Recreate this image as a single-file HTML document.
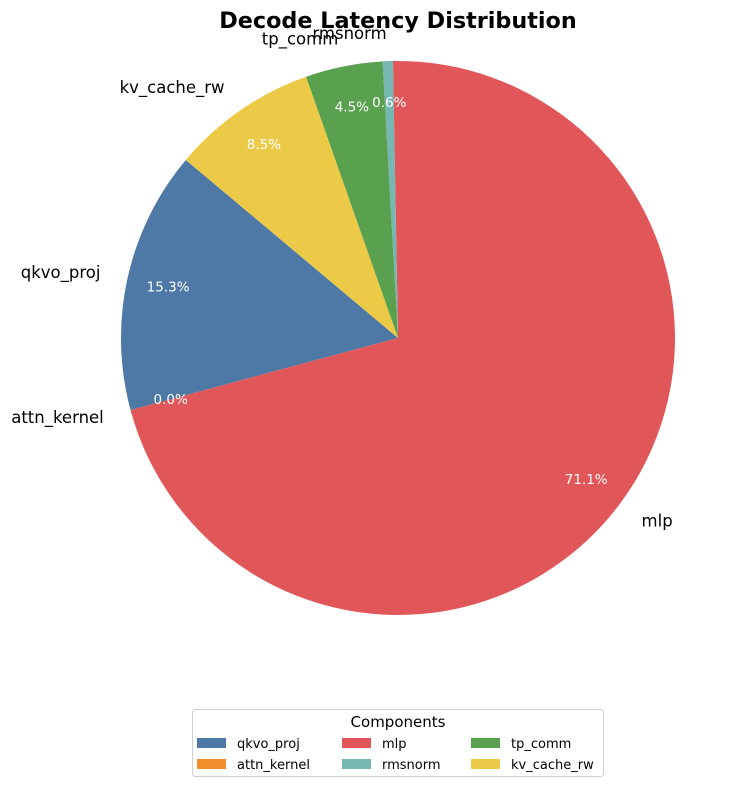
<!DOCTYPE html>
<html><head><meta charset="utf-8"><style>
body{margin:0;background:#fff;}
svg{display:block;font-family:"DejaVu Sans","Liberation Sans",sans-serif;}
</style></head><body>
<svg id="chart" width="751" height="787">
<text x="398" y="28" text-anchor="middle" font-size="22.3" font-weight="bold">Decode Latency Distribution</text>
<g id="pie"></g>
<g id="labels"></g>
<g>
<rect x="192.5" y="709.5" width="411" height="67" rx="3" fill="#fff" stroke="#d0d0d0"/>
<text x="398" y="727" text-anchor="middle" font-size="15">Components</text>
<g id="legend-entries"></g>
</g>
</svg>
<script>
const categories = ["qkvo_proj","attn_kernel","mlp","rmsnorm","tp_comm","kv_cache_rw"];
const values = [15.3, 0.0, 71.1, 0.6, 4.5, 8.5];
const colors = ["#4e79a7","#f28e2b","#e15759","#76b7b2","#59a14f","#edc948"];
const startAngle = 140;
const cx = 398, cy = 338, R = 277;
const NS = "http://www.w3.org/2000/svg";
const pie = document.getElementById("pie");
const labels = document.getElementById("labels");
const total = values.reduce((a,b)=>a+b,0);
function pt(deg, r){ const a = deg*Math.PI/180; return [cx + r*Math.cos(a), cy - r*Math.sin(a)]; }
let ang = startAngle;
categories.forEach((c,i)=>{
  const sweep = values[i]/total*360;
  const a0 = ang, a1 = ang + sweep;
  if (sweep > 0) {
    const p0 = pt(a0,R), p1 = pt(a1,R);
    const large = sweep > 180 ? 1 : 0;
    const path = document.createElementNS(NS,"path");
    path.setAttribute("d",`M${cx},${cy} L${p0[0]},${p0[1]} A${R},${R} 0 ${large} 0 ${p1[0]},${p1[1]} Z`);
    path.setAttribute("fill",colors[i]);
    
    
    pie.appendChild(path);
  }
  const mid = (a0+a1)/2;
  const lp = pt(mid, R*1.1);
  const lbl = document.createElementNS(NS,"text");
  lbl.setAttribute("x",lp[0]); lbl.setAttribute("y",lp[1]+5.5);
  lbl.setAttribute("font-size","16.5");
  lbl.setAttribute("text-anchor", lp[0] < cx ? "end" : "start");
  lbl.textContent = c;
  
  
  labels.appendChild(lbl);
  const pp = pt(mid, R*0.85);
  const pct = document.createElementNS(NS,"text");
  pct.setAttribute("x",pp[0]); pct.setAttribute("y",pp[1]+4.5);
  pct.setAttribute("font-size","13.5");
  pct.setAttribute("fill","#fff");
  pct.setAttribute("text-anchor","middle");
  pct.textContent = (values[i]/total*100).toFixed(1) + "%";
  
  
  labels.appendChild(pct);
  ang = a1;
});
const le = document.getElementById("legend-entries");
const colX = [197, 342, 471];
const rowY = [743, 764];
categories.forEach((c,i)=>{
  const col = Math.floor(i/2), row = i%2;
  const r = document.createElementNS(NS,"rect");
  r.setAttribute("x",colX[col]); r.setAttribute("y",rowY[row]-5);
  r.setAttribute("width",29); r.setAttribute("height",10);
  r.setAttribute("fill",colors[i]);
  
  
  le.appendChild(r);
  const t = document.createElementNS(NS,"text");
  t.setAttribute("x",colX[col]+40); t.setAttribute("y",rowY[row]+5);
  t.setAttribute("font-size","13");
  t.textContent = c;
  
  
  le.appendChild(t);
});
</script>
</body></html>
